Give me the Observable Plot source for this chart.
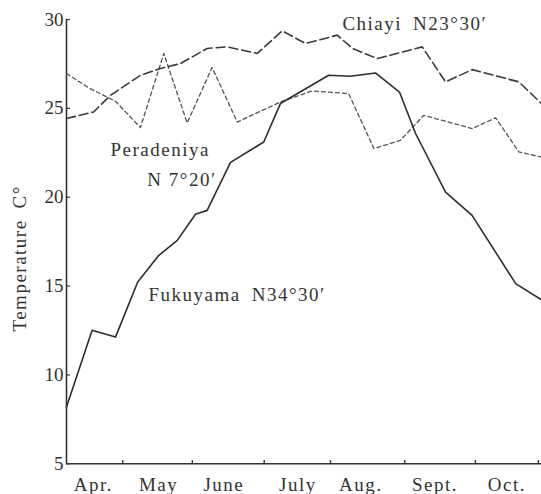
<!DOCTYPE html>
<html><head><meta charset="utf-8">
<script src="https://cdn.jsdelivr.net/npm/d3@7"></script>
<script src="https://cdn.jsdelivr.net/npm/@observablehq/plot@0.6"></script>
<style>
html,body{margin:0;padding:0;background:#fff;}
g[aria-label="text"] text, g[aria-label="x-axis tick label"] text {letter-spacing:1.5px;}
</style></head><body><div id="chart"></div>
<script>
// x values: days after April 1
const monthNames = ["Apr.","May","June","July","Aug.","Sept.","Oct."];
const monthLabelDay = [16,45,74,107,135,168,200];
const monthTickDay = [29,60,92,121.5,154.5,186,214];
const yTicks = [5,10,15,20,25,30];

const fukuyamaDay  = [4,15.4,25.8,35.7,45.1,53.3,61.4,66.6,77,91.8,99.2,120.7,130.3,141.5,152.2,159.3,172.7,184.5,203.9,215.4];
const fukuyamaTemp = [8.19,12.51,12.13,15.23,16.73,17.57,19.04,19.26,21.96,23.11,25.27,26.86,26.81,26.99,25.92,23.6,20.29,18.98,15.14,14.23];
const chiayiDay  = [4,16.1,23.6,36.9,45.8,54.7,66.6,75.5,88.9,100,110.4,124.5,131.3,142.3,162.3,172.7,184.6,205.3,215.4];
const chiayiTemp = [24.43,24.8,25.74,26.86,27.24,27.52,28.37,28.46,28.09,29.36,28.65,29.12,28.37,27.8,28.46,26.49,27.18,26.49,25.27];
const peradeniyaDay  = [4,14.2,25.8,36.9,47.3,57.7,68.8,80,99.2,113.3,129.6,140.8,152.6,163,184.6,195,205.3,215.4];
const peradeniyaTemp = [26.96,26.13,25.4,23.92,28.09,24.18,27.3,24.23,25.36,25.98,25.83,22.74,23.2,24.61,23.86,24.47,22.55,22.26];

const noteText = ["Chiayi\u2002N23°30′", "Peradeniya", "N 7°20′", "Fukuyama\u2002N34°30′"];
const noteDay  = [126.8, 23.6, 70.8, 40.5];
const noteTemp = [29.76, 22.64, 20.98, 14.5];
const noteAnchor = ["start","start","end","start"];

const yLabel = "Temperature\u2002C°";

const toRows = (days, temps) => days.map((d, i) => ({day: d, temp: temps[i]}));
const fukuyama = toRows(fukuyamaDay, fukuyamaTemp);
const chiayi = toRows(chiayiDay, chiayiTemp);
const peradeniya = toRows(peradeniyaDay, peradeniyaTemp);
const notes = noteText.map((t, i) => ({text: t, day: noteDay[i], temp: noteTemp[i], anchor: noteAnchor[i]}));

const ink = "#333";
const chart = Plot.plot({
  width: 541, height: 494,
  marginLeft: 66, marginRight: 0, marginTop: 19, marginBottom: 30.7,
  x: {domain: [4, 215.4]},
  y: {domain: [5, 30]},
  style: {fontFamily: "'Liberation Serif', 'DejaVu Serif', serif", fontSize: "19px", color: ink, background: "#fff", overflow: "visible"},
  marks: [
    Plot.axisY({ticks: yTicks, tickSize: 0, tickPadding: 3, fontSize: 19, label: null}),
    Plot.axisX({ticks: monthLabelDay, tickSize: 0, tickPadding: 14, fontSize: 19, label: null,
                tickFormat: d => monthNames[monthLabelDay.indexOf(d)]}),
    Plot.ruleX([4], {stroke: ink, strokeWidth: 1.6}),
    Plot.ruleY([5], {stroke: ink, strokeWidth: 1.6}),
    Plot.ruleX(monthTickDay, {x: d => d, y1: 5, y2: 5.18, stroke: ink, strokeWidth: 1.4}),
    Plot.ruleY(yTicks, {y: d => d, x1: 4, x2: 5.8, stroke: ink, strokeWidth: 1.2}),
    Plot.line(peradeniya, {x: "day", y: "temp", stroke: "#555", strokeWidth: 1.3, strokeDasharray: "4,3"}),
    Plot.line(chiayi, {x: "day", y: "temp", stroke: "#3a3a3a", strokeWidth: 1.6, strokeDasharray: "9,4"}),
    Plot.line(fukuyama, {x: "day", y: "temp", stroke: "#2e2e2e", strokeWidth: 1.6}),
    Plot.text(notes.filter(d => d.anchor === "start"), {x: "day", y: "temp", text: "text", textAnchor: "start", lineAnchor: "middle", fontSize: 19, fill: ink}),
    Plot.text(notes.filter(d => d.anchor === "end"), {x: "day", y: "temp", text: "text", textAnchor: "end", lineAnchor: "middle", fontSize: 19, fill: ink}),
    Plot.text([yLabel], {x: -16.9, y: 16.56, text: d => d, rotate: -90, textAnchor: "middle", lineAnchor: "middle", fontSize: 19, fill: ink})
  ]
});
document.getElementById("chart").appendChild(chart);
</script></body></html>
